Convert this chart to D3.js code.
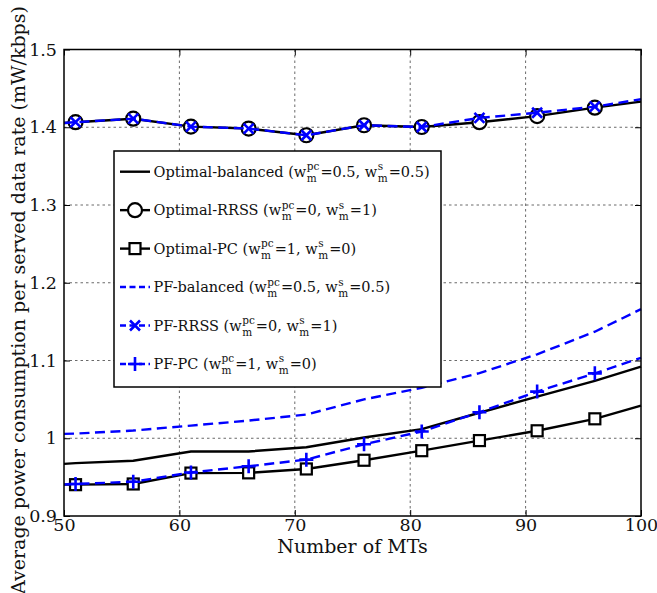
<!DOCTYPE html>
<html><head><meta charset="utf-8">
<script src="https://cdn.jsdelivr.net/npm/d3@7"></script>
<style>
html,body{margin:0;padding:0;background:#fff;}
svg{display:block;font-family:"DejaVu Serif",serif;}
</style></head>
<body>
<svg id="chart" width="657" height="593"></svg>
<script>
// ---- data ----
const xs = [50, 51, 56, 61, 66, 71, 76, 81, 86, 91, 96, 100];
const markerIdx = [1, 2, 3, 4, 5, 6, 7, 8, 9, 10];
const optBalanced = [0.967, 0.968, 0.971, 0.983, 0.983, 0.9885, 1.001, 1.0117, 1.0328, 1.0535, 1.0739, 1.092];
const optRRSS     = [1.4055, 1.4065, 1.411, 1.4008, 1.3983, 1.3897, 1.4026, 1.4003, 1.4065, 1.4143, 1.4252, 1.433];
const optPC       = [0.9403, 0.9403, 0.9412, 0.9552, 0.9555, 0.9605, 0.9717, 0.984, 0.997, 1.0096, 1.025, 1.042];
const pfBalanced  = [1.0056, 1.006, 1.0099, 1.0163, 1.0227, 1.0305, 1.050, 1.065, 1.0838, 1.108, 1.137, 1.166];
const pfRRSS      = [1.4055, 1.4065, 1.411, 1.4008, 1.3983, 1.3897, 1.4026, 1.4003, 1.412, 1.4187, 1.4265, 1.436];
const pfPC        = [0.9405, 0.9412, 0.944, 0.956, 0.964, 0.9725, 0.9922, 1.0087, 1.0335, 1.06, 1.0835, 1.1035];

const seriesNames = ["Optimal-balanced", "Optimal-RRSS", "Optimal-PC", "PF-balanced", "PF-RRSS", "PF-PC"];
const pcWeights = ["0.5", "0", "1", "0.5", "0", "1"];
const sWeights  = ["0.5", "1", "0", "0.5", "1", "0"];
const seriesColors = ["#000000", "#000000", "#000000", "#0000ff", "#0000ff", "#0000ff"];
const seriesDash = [null, null, null, "10,5.5", "10,5.5", "10,5.5"];
const seriesMarker = [null, "circle", "square", null, "x", "plus"];
const seriesValues = [optBalanced, optRRSS, optPC, pfBalanced, pfRRSS, pfPC];

const xTicks = [50, 60, 70, 80, 90, 100];
const yTicks = [0.9, 1.0, 1.1, 1.2, 1.3, 1.4, 1.5];
const xTitle = "Number of MTs";
const yTitle = "Average power consumption per served data rate (mW/kbps)";

// ---- layout ----
const L = 64, R = 641, T = 49.5, B = 516;
const svg = d3.select("#chart");
const x = d3.scaleLinear().domain([50, 100]).range([L, R]);
const y = d3.scaleLinear().domain([0.9, 1.5]).range([B, T]);

// grid
const grid = svg.append("g").attr("stroke", "#444").attr("stroke-width", 0.8).attr("stroke-dasharray", "2.5,3");
grid.selectAll("line.gx").data(xTicks.slice(1, -1)).join("line")
  .attr("x1", d => x(d)).attr("x2", d => x(d)).attr("y1", T).attr("y2", B);
grid.selectAll("line.gy").data(yTicks.slice(1, -1)).join("line")
  .attr("x1", L).attr("x2", R).attr("y1", d => y(d)).attr("y2", d => y(d));

// axes
const fmtY = d => (Math.round(d * 10) / 10).toString();
const axB = svg.append("g").attr("transform", `translate(0,${B})`)
  .call(d3.axisBottom(x).tickValues(xTicks).tickSizeInner(-6).tickSizeOuter(0).tickPadding(3));
const axL = svg.append("g").attr("transform", `translate(${L},0)`)
  .call(d3.axisLeft(y).tickValues(yTicks).tickFormat(fmtY).tickSizeInner(-6).tickSizeOuter(0).tickPadding(7));
const axT = svg.append("g").attr("transform", `translate(0,${T})`)
  .call(d3.axisTop(x).tickValues(xTicks).tickSizeInner(-6).tickSizeOuter(0).tickFormat(""));
const axR = svg.append("g").attr("transform", `translate(${R},0)`)
  .call(d3.axisRight(y).tickValues(yTicks).tickSizeInner(-6).tickSizeOuter(0).tickFormat(""));
[axB, axL, axT, axR].forEach(a => {
  a.select(".domain").remove();
  a.selectAll("line").attr("stroke", "#000").attr("stroke-width", 1);
  a.selectAll("text").attr("font-family", "DejaVu Serif").attr("font-size", 17.5).attr("fill", "#111");
});

// series
const line = d3.line().x(d => x(d[0])).y(d => y(d[1]));
function drawMarker(g, type, color, cx, cy) {
  if (type === "circle") {
    g.append("circle").attr("cx", cx).attr("cy", cy).attr("r", 7)
      .attr("fill", "#fff").attr("stroke", color).attr("stroke-width", 2.2);
  } else if (type === "square") {
    g.append("rect").attr("x", cx - 5.5).attr("y", cy - 5.5).attr("width", 11).attr("height", 11)
      .attr("fill", "#fff").attr("stroke", color).attr("stroke-width", 2.2);
  } else if (type === "x") {
    const s = 5;
    g.append("path").attr("d", `M${cx - s},${cy - s}L${cx + s},${cy + s}M${cx - s},${cy + s}L${cx + s},${cy - s}`)
      .attr("stroke", color).attr("stroke-width", 2.6).attr("fill", "none");
  } else if (type === "plus") {
    const s = 7;
    g.append("path").attr("d", `M${cx - s},${cy}L${cx + s},${cy}M${cx},${cy - s}L${cx},${cy + s}`)
      .attr("stroke", color).attr("stroke-width", 2.6).attr("fill", "none");
  }
}
const plot = svg.append("g");
seriesValues.forEach((vals, i) => {
  const pts = xs.map((xv, j) => [xv, vals[j]]);
  const g = plot.append("g");
  g.append("path").attr("d", line(pts)).attr("fill", "none")
    .attr("stroke", seriesColors[i]).attr("stroke-width", 2.4)
    .attr("stroke-dasharray", seriesDash[i]);
  if (seriesMarker[i]) {
    markerIdx.forEach(j => drawMarker(g, seriesMarker[i], seriesColors[i], x(xs[j]), y(vals[j])));
  }
});

// frame
svg.append("rect").attr("x", L).attr("y", T).attr("width", R - L).attr("height", B - T)
  .attr("fill", "none").attr("stroke", "#000").attr("stroke-width", 1.5);

// legend
const LX = 114, LY = 151, LW = 327, LH = 236;
const leg = svg.append("g");
leg.append("rect").attr("x", LX).attr("y", LY).attr("width", LW).attr("height", LH)
  .attr("fill", "#fff").attr("stroke", "#000").attr("stroke-width", 1.5);
const rowY0 = 171.7, rowStep = 38.45;
const fs = 14.5, fsSmall = 10.5;
seriesNames.forEach((nm, i) => {
  const cy = rowY0 + i * rowStep;
  const g = leg.append("g");
  g.append("line").attr("x1", 120).attr("x2", 150).attr("y1", cy).attr("y2", cy)
    .attr("stroke", seriesColors[i]).attr("stroke-width", 2.4).attr("stroke-dasharray", seriesDash[i] ? "6,3.5" : null);
  if (seriesMarker[i]) drawMarker(g, seriesMarker[i], seriesColors[i], 135, cy);
  const base = cy + 5;
  let cx = 153.5;
  function put(txt, size, dy) {
    const t = g.append("text").attr("x", cx).attr("y", base + dy).attr("font-size", size)
      .attr("fill", "#111").text(txt);
    return t.node().getComputedTextLength();
  }
  function stacked(sup, sub) {
    const w1 = put(sup, fsSmall, -6.5);
    const w2 = put(sub, fsSmall, 5);
    cx += Math.max(w1, w2) + 1;
  }
  cx += put(nm + " (w", fs, 0) + 0.5;
  stacked("pc", "m");
  cx += put("=" + pcWeights[i] + ", w", fs, 0) + 0.5;
  stacked("s", "m");
  put("=" + sWeights[i] + ")", fs, 0);
});

// titles
svg.append("text").attr("x", (L + R) / 2).attr("y", 553).attr("text-anchor", "middle")
  .attr("font-size", 19).attr("fill", "#111").text(xTitle);
svg.append("text").attr("transform", `translate(25,300) rotate(-90)`).attr("text-anchor", "middle")
  .attr("font-size", 19).attr("fill", "#111").text(yTitle);
</script>
</body></html>
